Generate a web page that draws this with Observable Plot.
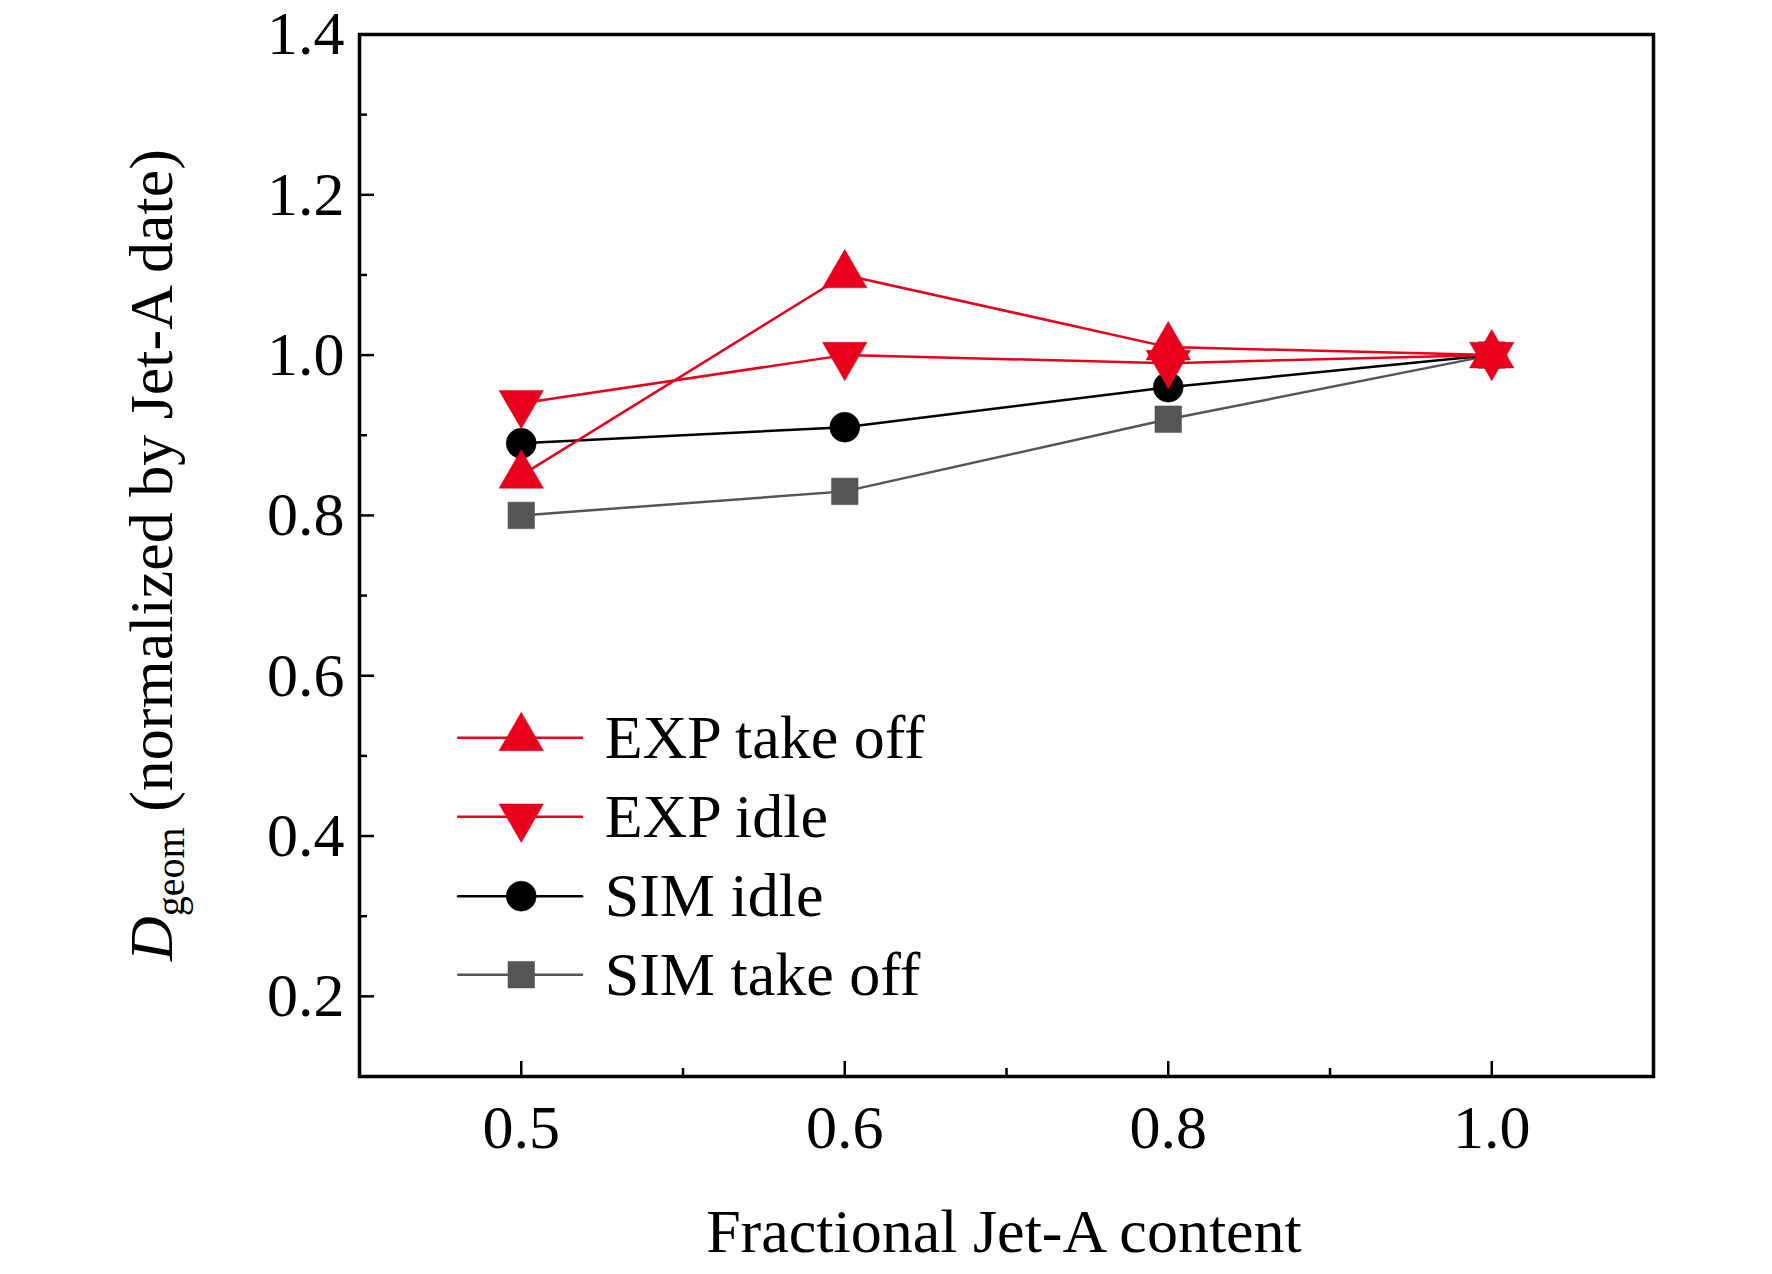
<!DOCTYPE html>
<html><head><meta charset="utf-8">
<script src="https://cdn.jsdelivr.net/npm/d3@7"></script>
<script src="https://cdn.jsdelivr.net/npm/@observablehq/plot@0.6"></script>
<style>body{margin:0;background:#fff}</style>
</head><body><div id="c"></div>
<script>
const categories = ["0.5","0.6","0.8","1.0"];
const expTakeOff = [0.85, 1.10, 1.01, 1.00];
const expIdle = [0.94, 1.00, 0.99, 1.00];
const simIdle = [0.89, 0.91, 0.96, 1.00];
const simTakeOff = [0.80, 0.83, 0.92, 1.00];
const yTicks = [0.2,0.4,0.6,0.8,1.0,1.2,1.4];
const yMinor = [0.1,0.3,0.5,0.7,0.9,1.1,1.3];
const seriesNames = ["EXP take off","EXP idle","SIM idle","SIM take off"];

const RED="#e8001c", BLK="#000", GRY="#555";
const triDown = {draw(ctx, size){const s=Math.sqrt(size/ (Math.sqrt(3)/4)); const h=s*Math.sqrt(3)/2; ctx.moveTo(-s/2,-h/3); ctx.lineTo(s/2,-h/3); ctx.lineTo(0,2*h/3); ctx.closePath();}};
const triUp = {draw(ctx, size){const s=Math.sqrt(size/ (Math.sqrt(3)/4)); const h=s*Math.sqrt(3)/2; ctx.moveTo(-s/2,h/3); ctx.lineTo(s/2,h/3); ctx.lineTo(0,-2*h/3); ctx.closePath();}};
const series = [
  {name:seriesNames[0], vals:expTakeOff, color:RED, sym:triUp, r:16.5},
  {name:seriesNames[1], vals:expIdle, color:RED, sym:triDown, r:16.5},
  {name:seriesNames[2], vals:simIdle, color:BLK, sym:"circle", r:15},
  {name:seriesNames[3], vals:simTakeOff, color:GRY, sym:"square", r:15},
];
const legY = [0.5225, 0.424, 0.325, 0.227];
const marks = [];
for (const s of series.slice().reverse()) {
  const d = s.vals.map((v,i)=>({x:i,y:v}));
  marks.push(Plot.line(d,{x:"x",y:"y",stroke:s.color,strokeWidth:2.5}));
  marks.push(Plot.dot(d,{x:"x",y:"y",fill:s.color,stroke:s.color,strokeWidth:0.5,symbol:()=>s.sym,r:s.r}));
}
series.forEach((s,k)=>{
  const ld=[{x:-0.195,y:legY[k]},{x:0.188,y:legY[k]}];
  marks.push(Plot.line(ld,{x:"x",y:"y",stroke:s.color,strokeWidth:2.5}));
  marks.push(Plot.dot([{x:0,y:legY[k]}],{x:"x",y:"y",fill:s.color,stroke:s.color,strokeWidth:0.5,symbol:()=>s.sym,r:s.r}));
  marks.push(Plot.text([{x:0.258,y:legY[k],t:s.name}],{x:"x",y:"y",text:"t",textAnchor:"start",fontSize:62,fill:"#000"}));
});
const plot = Plot.plot({
  width:1772, height:1274,
  marginLeft:359, marginRight:119, marginTop:34, marginBottom:198,
  style:{fontFamily:"'Liberation Serif', 'Times New Roman', serif", background:"#fff"},
  x:{domain:[-0.5,3.5]},
  y:{domain:[0.1,1.4]},
  marks:[
    Plot.axisX({ticks:[0,1,2,3], tickFormat:i=>categories[i], tickSize:-15, tickPadding:42, fontSize:62, label:null, strokeWidth:2.5}),
    Plot.axisX({ticks:[0.5,1.5,2.5], tickFormat:()=>"", tickSize:-8, label:null, strokeWidth:2.5}),
    Plot.axisY({ticks:yTicks, tickFormat:d=>d.toFixed(1), tickSize:-15, tickPadding:30, fontSize:62, label:null, strokeWidth:2.5}),
    Plot.axisY({ticks:yMinor, tickFormat:()=>"", tickSize:-8, label:null, strokeWidth:2.5}),
    ...marks,
    Plot.frame({stroke:"#000", strokeWidth:3.5})
  ]
});
const svg = d3.select(plot);
svg.append("text").attr("x",1004).attr("y",1252).attr("text-anchor","middle")
  .attr("font-family","'Liberation Serif', serif").attr("font-size",62).text("Fractional Jet-A content");
const yl = svg.append("text").attr("transform","translate(172,555) rotate(-90)").attr("text-anchor","middle")
  .attr("font-family","'Liberation Serif', serif").attr("font-size",62);
yl.append("tspan").attr("font-style","italic").text("D");
yl.append("tspan").attr("font-size",40).attr("dy",12).text("geom");
yl.append("tspan").attr("dy",-12).text(" (normalized by Jet-A date)");
document.getElementById("c").appendChild(plot);
</script></body></html>
